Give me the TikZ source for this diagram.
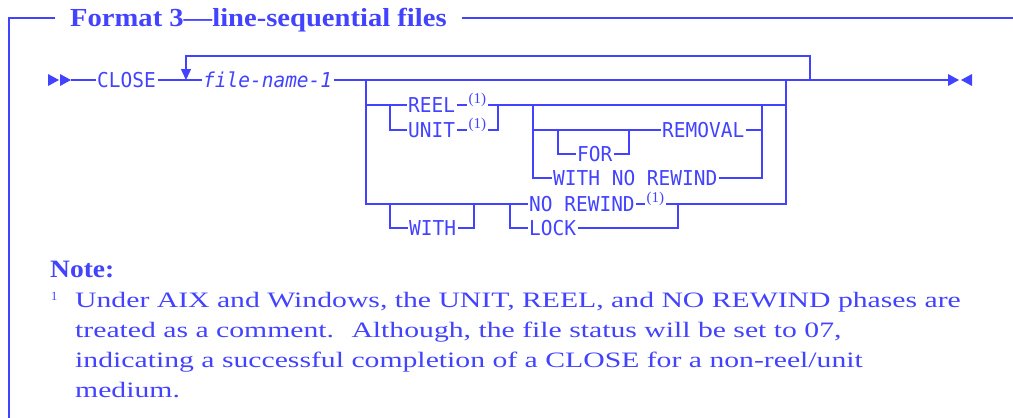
\documentclass[tikz,border=0pt]{standalone}
\usepackage{fontspec}
\setmainfont{Liberation Serif}
\newfontfamily\headfont[FakeStretch=1.1]{Liberation Serif}
\newfontfamily\notefont[FakeStretch=1.35]{Liberation Serif}
\newfontfamily\railfont[FakeStretch=0.95]{DejaVu Sans Mono}
\usetikzlibrary{arrows.meta}
\definecolor{railblue}{HTML}{4242FF}
\tikzset{
  rail/.style     = {draw=railblue, line width=1.4pt},
  loopback/.style = {rail, -{Triangle[length=11pt,width=10pt]}},
  tipfill/.style  = {fill=railblue},
  kw/.style       = {font=\railfont\fontsize{20.5}{21}\selectfont, text=railblue,
                     anchor=west, inner xsep=1.5pt, inner ysep=0pt,
                     text height=15pt, text depth=0pt},
  var/.style      = {kw, font=\railfont\itshape\fontsize{20.5}{21}\selectfont},
  fnref/.style    = {font=\fontsize{15}{15}\selectfont, text=railblue,
                     anchor=base west, inner xsep=1.5pt, inner ysep=0pt},
  head/.style     = {font=\headfont\bfseries\fontsize{26}{30}\selectfont, text=railblue,
                     anchor=base west, inner xsep=15pt, inner ysep=0pt},
  notetext/.style = {font=\notefont\fontsize{22}{30}\selectfont, text=railblue,
                     anchor=base west, inner sep=0pt},
}
\begin{document}
\begin{tikzpicture}[x=1pt,y=-1pt]
  \useasboundingbox (0,0) rectangle (1013,418);
  % frame and heading
  \coordinate (frTL) at (9,18);
  \coordinate (frB) at (9,418);
  \coordinate (frR) at (1013,18);
  \node[head] (title) at (55,26) {Format 3—line-sequential files};
  \draw[rail] (frB) -- (frTL) -- (title.west |- frTL);
  \draw[rail] (title.east |- frTL) -- (frR);

  % junctions
  \foreach \n/\x/\y in {in/71/80, loopin/186/80, looptop/186/56, grpL/366/80,
                        grpR/786/80, loopout/810/80, out/948/80,
                        ruL/390/105, ruR/498/105, opL/533/105, opR/762/105,
                        forL/558/130, forR/629/130, wL/390/204, wR/474/204,
                        nlL/510/204, nlR/678/204}{
    \coordinate (\n) at (\x,\y);}

  % keywords
  \node[kw]  (close)   at (95.5,80)  {CLOSE};
  \node[var] (fname)   at (201.5,80) {file-name-1};
  \node[kw]  (reel)    at (406.5,105) {REEL};
  \node[kw]  (unit)    at (406.5,130) {UNIT};
  \node[kw]  (removal) at (660.5,130) {REMOVAL};
  \node[kw]  (for)     at (575.5,154) {FOR};
  \node[kw]  (wnr)     at (551.5,178) {WITH NO REWIND};
  \node[kw]  (norew)   at (527.5,204) {NO REWIND};
  \node[kw]  (with)    at (407.5,228) {WITH};
  \node[kw]  (lock)    at (527.5,228) {LOCK};
  \node[fnref] (r1) at (467,103.5) {(1)};
  \node[fnref] (u1) at (467,128.5) {(1)};
  \node[fnref] (n1) at (645,202.5) {(1)};

  % main line
  \fill[tipfill] (48,74) -- (59,80) -- (48,86) -- cycle;
  \fill[tipfill] (60,74) -- (71,80) -- (60,86) -- cycle;
  \draw[rail] (in) -- (close.west);
  \draw[rail] (close.east) -- (fname.west);
  \draw[rail] (fname.east) -- (out);
  \fill[tipfill] (948,74) -- (959,80) -- (948,86) -- cycle;
  \fill[tipfill] (972,74) -- (961,80) -- (972,86) -- cycle;
  \draw[loopback] (loopout) |- (looptop) -- (loopin);

  % REEL / UNIT
  \draw[rail] (grpL) |- (reel.west);
  \draw[rail] (reel.east) -- (reel.east -| r1.west);
  \draw[rail] (r1.east |- reel.east) -- (reel.east -| grpR);
  \draw[rail] (ruL) |- (unit.west);
  \draw[rail] (unit.east) -- (unit.east -| u1.west);
  \draw[rail] (u1.east |- unit.east) -| (ruR);

  % FOR REMOVAL / WITH NO REWIND
  \draw[rail] (opL) |- (wnr.west);
  \draw[rail] (wnr.east) -| (opR);
  \draw[rail] (opL |- removal.west) -- (removal.west);
  \draw[rail] (removal.east) -- (removal.east -| opR);
  \draw[rail] (forL) |- (for.west);
  \draw[rail] (for.east) -| (forR);

  % WITH NO REWIND / LOCK
  \draw[rail] (grpL) |- (norew.west);
  \draw[rail] (norew.east) -- (norew.east -| n1.west);
  \draw[rail] (n1.east |- norew.east) -| (grpR);
  \draw[rail] (wL) |- (with.west);
  \draw[rail] (with.east) -| (wR);
  \draw[rail] (nlL) |- (lock.west);
  \draw[rail] (lock.east) -| (nlR);

  % note
  \node[notetext, font=\headfont\bfseries\fontsize{25}{30}\selectfont] (note) at (50,277) {Note:};
  \node[notetext, font=\fontsize{12.5}{14}\selectfont] (fnmark) at (51,300) {1};
  \foreach \i/\txt in {1/{Under AIX and Windows, the UNIT, REEL, and NO REWIND phases are},
                       2/{treated as a comment.~ Although, the file status will be set to 07,},
                       3/{indicating a successful completion of a CLOSE for a non-reel/unit},
                       4/{medium.}}{
    \node[notetext] (note\i) at (75,{277+30*\i}) {\txt};}
\end{tikzpicture}
\end{document}
